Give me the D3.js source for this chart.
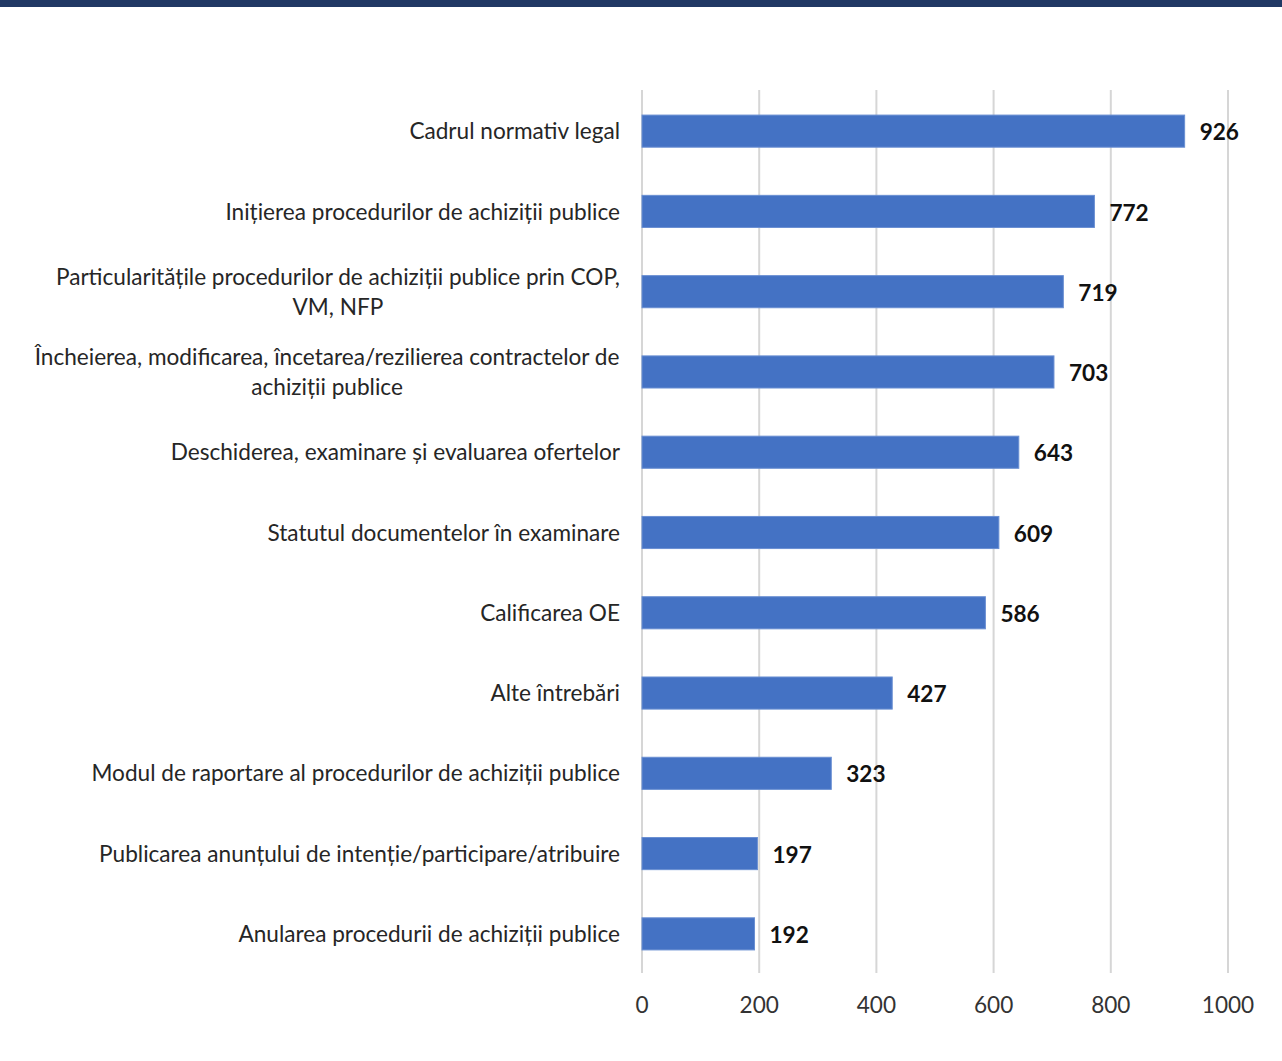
<!DOCTYPE html>
<html>
<head>
<meta charset="utf-8">
<script src="https://cdn.jsdelivr.net/npm/d3@7"></script>
<style>
  html, body { margin: 0; padding: 0; background: #fff; }
  svg { display: block; }
</style>
</head>
<body>
<svg id="chart" width="1282" height="1061"></svg>
<script>
const categories = [
  "Cadrul normativ legal",
  "Inițierea procedurilor de achiziții publice",
  "Particularitățile procedurilor de achiziții publice prin COP,\nVM, NFP",
  "Încheierea, modificarea, încetarea/rezilierea contractelor de\nachiziții publice",
  "Deschiderea, examinare și evaluarea ofertelor",
  "Statutul documentelor în examinare",
  "Calificarea OE",
  "Alte întrebări",
  "Modul de raportare al procedurilor de achiziții publice",
  "Publicarea anunțului de intenție/participare/atribuire",
  "Anularea procedurii de achiziții publice"
];
const values = [926, 772, 719, 703, 643, 609, 586, 427, 323, 197, 192];
const tickValues = [0, 200, 400, 600, 800, 1000];

const FONT = "Lato, 'Open Sans', sans-serif";
const FS = 22.6;
const svg = d3.select("#chart");

// top band
svg.append("rect").attr("x", 0).attr("y", 0).attr("width", 1282).attr("height", 7).attr("fill", "#203864");

const x = d3.scaleLinear().domain([0, 1000]).range([642, 1228]);
const y = d3.scaleBand().domain(categories).range([91, 974]).paddingInner(0.6).paddingOuter(0.3);

// gridlines
svg.append("g").selectAll("line").data(tickValues).join("line")
  .attr("x1", d => x(d)).attr("x2", d => x(d))
  .attr("y1", 90).attr("y2", 973)
  .attr("stroke", "#d6d6d6").attr("stroke-width", 2);

// bars
svg.append("g").selectAll("rect").data(values).join("rect")
  .attr("x", x(0)).attr("y", (d, i) => y(categories[i]))
  .attr("width", d => x(d) - x(0)).attr("height", y.bandwidth())
  .attr("fill", "#4472c4").attr("stroke", "#6a8fd2").attr("stroke-width", 1);

// value labels
svg.append("g").selectAll("text").data(values).join("text")
  .attr("x", d => x(d) + 15)
  .attr("y", (d, i) => y(categories[i]) + y.bandwidth() / 2 + 1)
  .attr("dy", "0.36em")
  .attr("font-family", FONT).attr("font-size", FS).attr("font-weight", "bold")
  .attr("fill", "#111")
  .text(d => d);

// category labels
const lineH = 29.5;
const labelG = svg.append("g");
categories.forEach((c, i) => {
  const lines = c.split("\n");
  const cy = y(c) + y.bandwidth() / 2;
  const t = labelG.append("text")
    .attr("font-family", FONT).attr("font-size", FS).attr("fill", "#262626");
  if (lines.length === 1) {
    t.attr("x", 620).attr("y", cy).attr("dy", "0.36em").attr("text-anchor", "end").text(lines[0]);
  } else {
    lines.forEach((l, j) => {
      t.append("tspan").attr("x", 0).attr("y", cy + (j - (lines.length - 1) / 2) * lineH)
        .attr("dy", "0.36em").attr("text-anchor", "middle").text(l);
    });
    const w = t.node().getBBox().width;
    t.selectAll("tspan").attr("x", 620 - w / 2);
  }
});

// x axis tick labels
svg.append("g").selectAll("text").data(tickValues).join("text")
  .attr("x", d => x(d)).attr("y", 1005).attr("dy", "0.36em")
  .attr("text-anchor", "middle")
  .attr("font-family", FONT).attr("font-size", FS).attr("fill", "#333")
  .text(d => d);
</script>
</body>
</html>
